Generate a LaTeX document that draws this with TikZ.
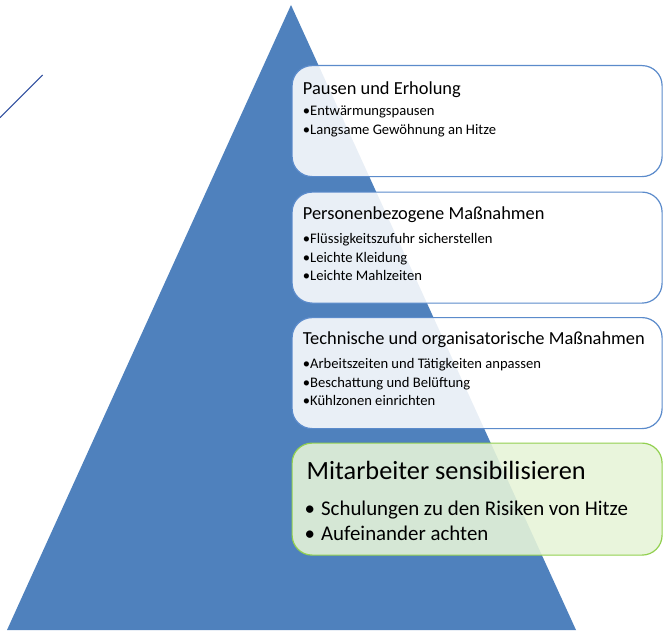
\documentclass[tikz,border=0pt]{standalone}
\usepackage{fontspec}
\setmainfont{Carlito}
\usepackage{tikz}

\definecolor{pyrblue}{HTML}{4F81BD}
\definecolor{edgeblue}{HTML}{5B8BCB}
\definecolor{strokeblue}{HTML}{2E4E9E}
\definecolor{leafgreen}{HTML}{92D050}
\definecolor{palegreen}{RGB}{230,244,216}

\begin{document}
\begin{tikzpicture}[x=1pt,y=-1pt]
    \tikzset { layer/.style = { draw=edgeblue, line width=1.2pt, fill=white, fill opacity=0.88,
                                rounded corners=20pt, minimum width=370pt, minimum height=111pt,
                                anchor=north west, inner sep=0pt } }
    \tikzset { greenlayer/.style = { layer, draw=leafgreen, fill=palegreen, fill opacity=0.89 } }
    \tikzset { head/.style = { anchor=base west, inner sep=0pt, font=\fontsize{18.4}{22}\selectfont } }
    \tikzset { item/.style = { anchor=base west, inner sep=0pt, font=\fontsize{14.6}{17}\selectfont } }
    \tikzset { bighead/.style = { head, font=\fontsize{26.3}{31}\selectfont } }
    \tikzset { bigitem/.style = { item, font=\fontsize{20.9}{24}\selectfont } }

    \useasboundingbox (0,0) rectangle (664,634);

    % pyramid and the stray stroke
    \coordinate (top) at (291,5);
    \coordinate (baseL) at (7,630);
    \coordinate (baseR) at (576,630);
    \fill[pyrblue] (top) -- (baseL) -- (baseR) -- cycle;
    \coordinate (s1) at (42.7,75);
    \coordinate (s2) at (0,117.7);
    \draw[strokeblue, line width=1.1pt] (s1) -- (s2);

    % layers
    \node[layer] (pause) at (291.5,65) {};
    \node[layer] (person) at (291.5,191.5) {};
    \node[layer] (technik) at (291.5,317) {};
    \node[greenlayer, minimum height=112pt] (mitarb) at (291.5,442.5) {};

    % texts
    \node[head] (pauseT) at (302.7,94) {Pausen und Erholung};
    \node[item] (pauseA) at (302.7,115.5) {•Entwärmungspausen};
    \node[item] (pauseB) at (302.7,134.5) {•Langsame Gewöhnung an Hitze};

    \node[head] (personT) at (302.7,219) {Personenbezogene Maßnahmen};
    \node[item] (personA) at (302.7,243.5) {•Flüssigkeitszufuhr sicherstellen};
    \node[item] (personB) at (302.7,262) {•Leichte Kleidung};
    \node[item] (personC) at (302.7,280.5) {•Leichte Mahlzeiten};

    \node[head] (technikT) at (302.7,344) {Technische und organisatorische Maßnahmen};
    \node[item] (technikA) at (302.7,368.5) {•Arbeitszeiten und Tätigkeiten anpassen};
    \node[item] (technikB) at (302.7,387.3) {•Beschattung und Belüftung};
    \node[item] (technikC) at (302.7,405.5) {•Kühlzonen einrichten};

    \node[bighead] (mitarbT) at (306.5,479) {Mitarbeiter sensibilisieren};
    \node[bigitem] (mitarbA) at (304.5,515.5) {•\hskip 6pt Schulungen zu den Risiken von Hitze};
    \node[bigitem] (mitarbB) at (304.5,540.5) {•\hskip 6pt Aufeinander achten};
\end{tikzpicture}
\end{document}
